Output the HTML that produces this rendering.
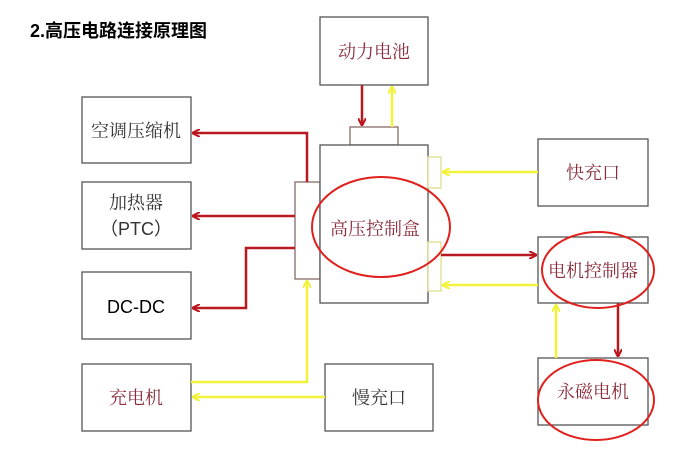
<!DOCTYPE html>
<html><head><meta charset="utf-8"><style>
body{margin:0;background:#fff;width:700px;height:454px;overflow:hidden}
</style></head><body>
<svg width="700" height="454" xmlns="http://www.w3.org/2000/svg" font-family="'Liberation Serif','Noto Serif CJK SC',serif">
<defs>
<marker id="r" markerWidth="8" markerHeight="8" refX="7" refY="4" orient="auto" markerUnits="userSpaceOnUse"><path d="M0,0 L8,4 L0,8" fill="none" stroke="#c0141c" stroke-width="2"/></marker>
<marker id="y" markerWidth="8" markerHeight="8" refX="7" refY="4" orient="auto" markerUnits="userSpaceOnUse"><path d="M0,0 L8,4 L0,8" fill="none" stroke="#f2f23a" stroke-width="2"/></marker>
</defs>
<text x="30" y="37" font-size="18" font-weight="bold" fill="#000" font-family="'Liberation Sans','Noto Sans CJK SC',sans-serif">2.高压电路连接原理图</text>
<g fill="#fff" stroke="#555" stroke-width="1.3">
<rect x="82" y="97" width="109" height="66"/>
<rect x="82" y="182" width="109" height="67"/>
<rect x="82" y="272" width="109" height="67"/>
<rect x="82" y="364" width="109" height="67"/>
<rect x="325" y="364" width="108" height="67"/>
<rect x="320" y="17" width="108" height="68"/>
<rect x="538" y="139" width="110" height="67"/>
<rect x="538" y="237" width="110" height="66"/>
<rect x="538" y="358" width="110" height="67"/>
<rect x="350" y="127" width="48" height="18" stroke="#8a6a6a"/>
<rect x="295" y="182" width="25" height="97" stroke="#8a6a6a"/>
<rect x="320" y="145" width="108" height="158"/>
<rect x="428" y="157" width="13" height="31" stroke="#dede90"/>
<rect x="428" y="242" width="13" height="49" stroke="#dede90"/>
</g>
<g fill="none" stroke-width="2.5">
<path d="M362 85V125" stroke="#b81820" marker-end="url(#r)"/>
<path d="M392 127V87" stroke="#f2f23a" marker-end="url(#y)"/>
<path d="M307 182V133H193" stroke="#b81820" marker-end="url(#r)"/>
<path d="M295 216H193" stroke="#b81820" marker-end="url(#r)"/>
<path d="M295 248H246V308H193" stroke="#b81820" marker-end="url(#r)"/>
<path d="M191 382H307V281" stroke="#f2f23a" marker-end="url(#y)"/>
<path d="M325 397H193" stroke="#f2f23a" marker-end="url(#y)"/>
<path d="M538 172H443" stroke="#f2f23a" marker-end="url(#y)"/>
<path d="M441 255H536" stroke="#b81820" marker-end="url(#r)"/>
<path d="M538 285H443" stroke="#f2f23a" marker-end="url(#y)"/>
<path d="M556 358V305" stroke="#f2f23a" marker-end="url(#y)"/>
<path d="M618 303V356" stroke="#b81820" marker-end="url(#r)"/>
</g>
<g font-size="18" fill="#333" text-anchor="middle">
<text x="136" y="137">空调压缩机</text>
<text x="136" y="209">加热器</text>
<text x="136" y="235" font-family="'Liberation Sans','Noto Sans CJK SC',sans-serif">（PTC）</text>
<text x="136" y="313" fill="#000" font-family="'Liberation Sans',sans-serif">DC-DC</text>
<text x="136" y="404" fill="#8a2a3a">充电机</text>
<text x="379" y="404" fill="#333">慢充口</text>
<text x="374" y="58" fill="#8a2a3a">动力电池</text>
<text x="593" y="179" fill="#8a2a3a">快充口</text>
<text x="593" y="277" fill="#8a2a3a">电机控制器</text>
<text x="593" y="398" fill="#8a2a3a">永磁电机</text>
<text x="375" y="235" fill="#8a2a3a">高压控制盒</text>
</g>
<g fill="none" stroke="#e0201c" stroke-width="2">
<ellipse cx="381" cy="227" rx="69" ry="50"/>
<ellipse cx="598" cy="270" rx="56" ry="38"/>
<ellipse cx="596" cy="400" rx="58" ry="40"/>
</g>
</svg>
</body></html>
